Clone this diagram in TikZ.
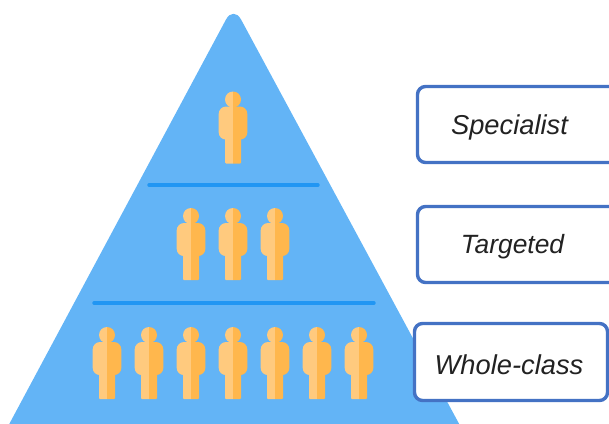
\documentclass[tikz,border=0pt]{standalone}
\usepackage{fontspec}
\setmainfont{Liberation Sans}
\definecolor{pyr}{HTML}{63B4F6}
\definecolor{bar}{HTML}{2196F3}
\definecolor{lite}{HTML}{FFCA7E}
\definecolor{dark}{HTML}{FFB74D}
\definecolor{edge}{HTML}{4472C4}
\definecolor{ink}{HTML}{222222}
\tikzset{
  person/.pic={
    \fill[lite] (0,-8) arc (-90:-270:8) -- cycle;
    \fill[dark] (0,-8) arc (-90:90:8) -- cycle;
    \fill[lite] (0,7) -- (-7,7) arc (-90:-180:7.3) -- (-14.3,33) arc (-180:-270:7) -- (-8,40)
      -- (-8,63) arc (-180:-270:1) -- (0,64) -- cycle;
    \fill[dark] (0,7) -- (7,7) arc (-90:0:7.3) -- (14.3,33) arc (0:90:7) -- (8,40)
      -- (8,63) arc (0:90:1) -- (0,64) -- cycle;
  },
  divider/.style={bar, line width=3.4pt, line cap=round},
  label/.style={draw=edge, line width=3.4pt, rounded corners=8pt, fill=white, minimum height=76pt,
    inner sep=0pt},
  caption/.style={font=\fontsize{27.3}{32}\selectfont\itshape, text=ink},
}
\begin{document}
\begin{tikzpicture}[x=1pt,y=-1pt]
\useasboundingbox (0,0) rectangle (609,423);
\clip (0,0) rectangle (609,423);
\fill[pyr, rounded corners=16pt] (233.5,5.5) -- (470.5,445) -- (-2,445) -- cycle;
\coordinate (d1a) at (149,185); \coordinate (d1b) at (318,185);
\coordinate (d2a) at (94,303); \coordinate (d2b) at (374,303);
\draw[divider] (d1a) -- (d1b);
\draw[divider] (d2a) -- (d2b);
\pic at (233,99.5) {person};
\foreach \px in {191,233,275} \pic at (\px,216) {person};
\foreach \px in {107,149,191,233,275,317,359} \pic at (\px,335) {person};
\node[label, minimum width=200pt] (specialist) at (517.5,124.5) {};
\node[label, minimum width=200pt] (targeted) at (517.5,244.5) {};
\node[label, minimum width=193pt, minimum height=77pt] (wholeclass) at (511,362) {};
\node[caption] (t1) at (509.5,127) {Specialist};
\node[caption, font=\fontsize{26.4}{32}\selectfont\itshape] (t2) at (512.5,247) {Targeted};
\node[caption] (t3) at (509,364.5) {Whole-class};
\end{tikzpicture}
\end{document}
